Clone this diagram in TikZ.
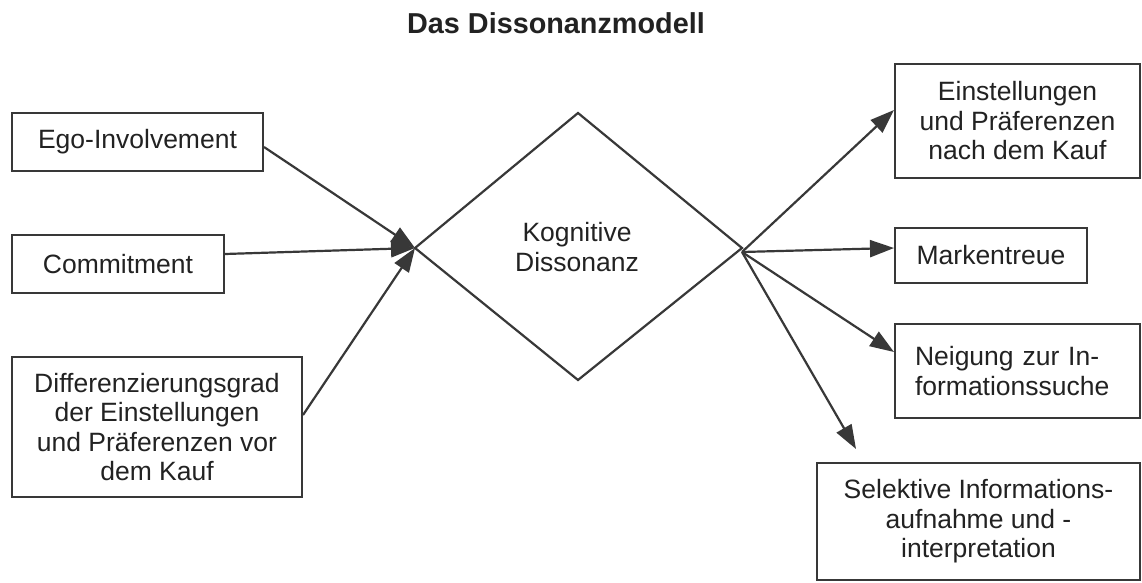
\documentclass[tikz,border=0pt]{standalone}
\usepackage{fontspec}
\setmainfont{Liberation Sans}
\usetikzlibrary{arrows.meta}
\definecolor{ink}{HTML}{222222}
\definecolor{linec}{HTML}{383838}
\begin{document}
\begin{tikzpicture}[x=1pt,y=-1pt,
  box/.style={draw=linec,line width=2pt,align=center,inner sep=0pt,text=ink,
    font=\fontsize{26.5}{29.5}\selectfont},
  conn/.style={draw=linec,line width=2.2pt,-{Triangle[length=24pt,width=17pt]}},
  lbl/.style={text=ink,align=center,font=\fontsize{26.5}{29.5}\selectfont}]
\useasboundingbox (0,0) rectangle (1142,583);
\fill[white] (0,0) rectangle (1142,583);
\node[text=ink,font=\fontsize{28.8}{32}\selectfont\bfseries] (title) at (556,23) {Das Dissonanzmodell};
% left boxes
\node[box,minimum width=251pt,minimum height=58pt] (ego) at (137.5,142) {Ego-Involvement};
\node[box,minimum width=212pt,minimum height=58pt] (com) at (118,264) {Commitment};
\node[box,minimum width=290pt,minimum height=140pt] (dif) at (157,427) {Differenzierungsgrad\\der Einstellungen\\und Präferenzen vor\\dem Kauf};
% diamond
\coordinate (dt) at (578,113);
\coordinate (dr) at (742,248);
\coordinate (db) at (578,380);
\coordinate (dl) at (415,248);
\draw[linec,line width=2.2pt,line join=miter] (dt) -- (dr) -- (db) -- (dl) -- cycle;
\node[lbl] (kog) at (577,247) {Kognitive\\Dissonanz};
\coordinate (src) at (742,252);
% right boxes
\node[box,minimum width=245pt,minimum height=114pt] (ein) at (1017.5,121) {Einstellungen\\und Präferenzen\\nach dem Kauf};
\node[box,minimum width=192pt,minimum height=55pt] (mar) at (991,255.5) {Markentreue};
\node[box,minimum width=245pt,minimum height=94pt,text width=205pt,align=left] (nei) at (1017.5,371) {\makebox[205pt][s]{Neigung zur In-}\\formationssuche};
\node[box,minimum width=323pt,minimum height=117pt] (sel) at (978.5,521.5) {Selektive Informations-\\aufnahme und -\\interpretation};
% connectors left
\draw[conn] ([yshift=-5pt]ego.east) -- (dl);
\draw[conn] ([yshift=10pt]com.east) -- (dl);
\draw[conn] ([yshift=12pt]dif.east) -- (dl);
% connectors right
\draw[conn] (src) -- ([yshift=11pt]ein.west);
\draw[conn] (src) -- ([yshift=7.5pt]mar.west);
\draw[conn] (src) -- ([yshift=19pt]nei.west);
\draw[conn] (src) -- ([xshift=40pt,yshift=13pt]sel.north west);
\end{tikzpicture}
\end{document}
